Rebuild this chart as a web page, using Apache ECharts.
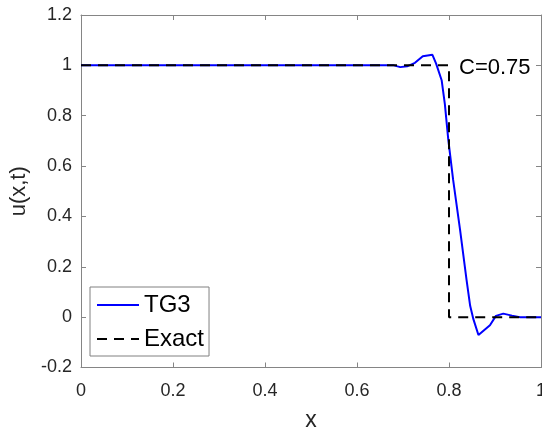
<!DOCTYPE html>
<html>
<head>
<meta charset="utf-8">
<script src="https://cdn.jsdelivr.net/npm/echarts@6/dist/echarts.min.js"></script>
<style>
  html, body { margin: 0; padding: 0; background: #fff; }
  #chart { width: 542px; height: 428px; }
</style>
</head>
<body>
<div id="chart"></div>
<script>
// TG3 numerical solution u(x,t), piecewise linear through its nodes
const tg3X = [0, 0.68, 0.694, 0.709, 0.726, 0.743, 0.764, 0.772, 0.784, 0.791, 0.7985,
              0.809, 0.824, 0.838, 0.846, 0.853, 0.864, 0.889, 0.902, 0.918, 0.937, 0.954, 1];
const tg3U = [1, 1, 0.993, 0.996, 1.01, 1.036, 1.042, 1.007, 0.941, 0.846, 0.704,
              0.545, 0.348, 0.150, 0.045, -0.008, -0.071, -0.032, 0.005, 0.014, 0.006, 0, 0];

// Exact solution: step located at x = 0.8
const exactX = [0, 0.8, 0.8, 1];
const exactU = [1, 1, 0, 0];

// Axis ranges and ticks
const xMin = 0, xMax = 1, xStep = 0.2;
const yMin = -0.2, yMax = 1.2, yStep = 0.2;

const seriesNames = ['TG3', 'Exact'];
const annotation = 'C=0.75';

const zip = (xs, ys) => xs.map((x, i) => [x, ys[i]]);
const fmt = v => String(+v.toFixed(1));

const axisColor = '#858585';
const textColor = '#262626';
const fontFamily = '"Liberation Sans", Arial, Helvetica, sans-serif';

function frameAxis(extra) {
  return Object.assign({
    type: 'value',
    axisLine: { show: true, onZero: false, lineStyle: { color: axisColor, width: 1 } },
    axisTick: { show: true, inside: true, length: 5, lineStyle: { color: axisColor } },
    splitLine: { show: false },
    gridIndex: 0
  }, extra);
}

const chart = echarts.init(document.getElementById('chart'), null, { renderer: 'canvas' });

chart.setOption({
  animation: false,
  backgroundColor: '#fff',
  textStyle: { fontFamily: fontFamily },
  grid: { left: 81, right: 1, top: 15, bottom: 60.5, containLabel: false, outerBoundsMode: 'none' },
  xAxis: [
    frameAxis({
      position: 'bottom', min: xMin, max: xMax, interval: xStep,
      name: 'x', nameLocation: 'middle', nameGap: 42,
      nameTextStyle: { fontSize: 23, color: textColor, fontFamily: fontFamily },
      axisLabel: { show: true, margin: 15, fontSize: 18, color: textColor, formatter: fmt, fontFamily: fontFamily }
    }),
    frameAxis({
      position: 'top', min: xMin, max: xMax, interval: xStep,
      axisLabel: { show: false }
    })
  ],
  yAxis: [
    frameAxis({
      position: 'left', min: yMin, max: yMax, interval: yStep,
      name: 'u(x,t)', nameLocation: 'middle', nameGap: 46, nameRotate: 90,
      nameTextStyle: { fontSize: 22, color: textColor, fontFamily: fontFamily },
      axisLabel: { show: true, margin: 9, fontSize: 18, color: textColor, formatter: fmt, fontFamily: fontFamily }
    }),
    frameAxis({
      position: 'right', min: yMin, max: yMax, interval: yStep,
      axisLabel: { show: false }
    })
  ],
  legend: {
    orient: 'vertical',
    left: 90, top: 287,
    padding: [6, 5, 5, 6],
    itemWidth: 42, itemHeight: 14, itemGap: 10,
    backgroundColor: '#fff',
    borderColor: '#808080', borderWidth: 1, borderRadius: 0,
    itemStyle: { opacity: 0 },
    textStyle: { fontSize: 24, lineHeight: 24, color: '#000', fontFamily: fontFamily },
    data: seriesNames
  },
  series: [
    {
      name: seriesNames[0], type: 'line',
      xAxisIndex: 0, yAxisIndex: 0,
      data: zip(tg3X, tg3U),
      showSymbol: false, symbol: 'none',
      lineStyle: { color: '#0000ff', width: 2 },
      itemStyle: { color: '#0000ff' },
      z: 2
    },
    {
      name: seriesNames[1], type: 'line',
      xAxisIndex: 0, yAxisIndex: 0,
      data: zip(exactX, exactU),
      showSymbol: false, symbol: 'none',
      lineStyle: { color: '#000', width: 2, type: [10, 7] },
      itemStyle: { color: '#000' },
      z: 3
    }
  ],
  graphic: [
    {
      type: 'text', left: 459, top: 57, z: 10,
      style: { text: annotation, fontSize: 22, fill: '#000', fontFamily: fontFamily }
    }
  ]
});
</script>
</body>
</html>
